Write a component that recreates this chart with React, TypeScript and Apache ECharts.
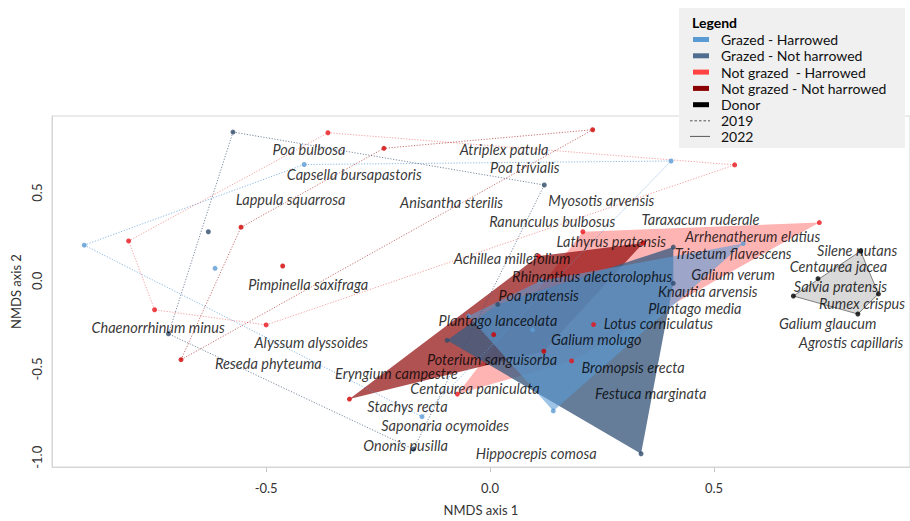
import React, { useEffect, useRef } from "react";
import * as echarts from "echarts";

// ---- axis ticks ----
const X_TICKS = [-0.5, 0, 0.5];
const Y_TICKS = [-1, -0.5, 0, 0.5];

// ---- 2019 plots (dotted hulls) ----
const GH19_HULL: number[][] = [[-0.906, 0.202], [-0.415, 0.659], [0.404, 0.679], [-0.152, -0.77]];
const GH19_IN: number[][] = [[-0.614, 0.071]];
const GN19_HULL: number[][] = [[-0.574, 0.843], [0.121, 0.543], [-0.171, -0.954], [-0.718, -0.3]];
const GN19_IN: number[][] = [[-0.629, 0.278]];
const NH19_HULL: number[][] = [[-0.362, 0.839], [0.546, 0.657], [-0.5, -0.25], [-0.749, -0.164], [-0.807, 0.226]];
const NH19_IN: number[][] = [];
const NN19_HULL: number[][] = [[-0.69, -0.447], [-0.556, 0.304], [-0.237, 0.751], [0.229, 0.856]];
const NN19_IN: number[][] = [[-0.463, 0.084]];

// ---- 2022 plots (filled hulls) ----
const GH22_HULL: number[][] = [[-0.048, -0.2], [0.113, 0.001], [0.565, 0.211], [0.141, -0.737]];
const GH22_IN: number[][] = [[0.095, -0.278]];
const GN22_HULL: number[][] = [[-0.096, -0.337], [0.017, -0.133], [0.409, 0.191], [0.409, -0.014], [0.337, -0.98]];
const GN22_IN: number[][] = [];
const NH22_HULL: number[][] = [[0.207, 0.278], [0.735, 0.33], [0.182, -0.454], [-0.073, -0.642]];
const NH22_IN: number[][] = [[0.231, -0.248]];
const NN22_HULL: number[][] = [[-0.314, -0.67], [0.108, 0.14], [0.342, 0.215], [0.12, -0.399]];
const NN22_IN: number[][] = [[0.008, -0.305]];
const DONOR_HULL: number[][] = [[0.677, -0.086], [0.827, 0.168], [0.867, -0.074], [0.821, -0.188]];
const DONOR_IN: number[][] = [[0.732, 0.012]];

// ---- species labels ----
const SPECIES: string[] = [
  "Poa bulbosa", "Capsella bursapastoris", "Lappula squarrosa", "Anisantha sterilis", "Pimpinella saxifraga",
  "Atriplex patula", "Poa trivialis", "Myosotis arvensis", "Ranunculus bulbosus", "Achillea millefolium",
  "Lathyrus pratensis", "Taraxacum ruderale", "Arrhenatherum elatius", "Trisetum flavescens", "Galium verum",
  "Rhinanthus alectorolophus", "Knautia arvensis", "Poa pratensis", "Plantago media", "Plantago lanceolata",
  "Lotus corniculatus", "Galium molugo", "Poterium sanguisorba", "Bromopsis erecta", "Eryngium campestre",
  "Centaurea paniculata", "Festuca marginata", "Stachys recta", "Saponaria ocymoides", "Ononis pusilla",
  "Hippocrepis comosa", "Silene nutans", "Centaurea jacea", "Salvia pratensis", "Rumex crispus",
  "Galium glaucum", "Agrostis capillaris", "Chaenorrhinum minus", "Alyssum alyssoides", "Reseda phyteuma",
];
const SPECIES_X: number[] = [
  -0.486, -0.454, -0.568, -0.201, -0.54,
  -0.068, 0.0, 0.13, -0.002, -0.081,
  0.148, 0.338, 0.435, 0.412, 0.449,
  0.049, 0.375, 0.019, 0.353, -0.115,
  0.254, 0.136, -0.141, 0.204, -0.346,
  -0.178, 0.234, -0.274, -0.243, -0.283,
  -0.032, 0.73, 0.669, 0.678, 0.734,
  0.645, 0.689, -0.89, -0.526, -0.614,
];
const SPECIES_Y: number[] = [
  0.744, 0.603, 0.46, 0.446, -0.021,
  0.744, 0.642, 0.456, 0.336, 0.125,
  0.224, 0.348, 0.252, 0.153, 0.036,
  0.027, -0.063, -0.082, -0.154, -0.227,
  -0.242, -0.333, -0.445, -0.489, -0.525,
  -0.612, -0.638, -0.711, -0.821, -0.932,
  -0.98, 0.174, 0.081, -0.032, -0.129,
  -0.241, -0.352, -0.263, -0.348, -0.467,
];

// ---- legend ----
const LEGEND_GROUPS = ["Grazed - Harrowed", "Grazed - Not harrowed", "Not grazed  - Harrowed", "Not grazed - Not harrowed", "Donor"];
const LEGEND_COLORS = ["#5B9BD5", "#4F6D8F", "#FF4343", "#8B0000", "#000000"];
const LEGEND_YEARS = ["2019", "2022"];

const FONT = "Lato, 'Liberation Sans', sans-serif";

function polygon(pts: number[][], fill: string, z: number, stroke?: string) {
  return {
    type: "custom",
    coordinateSystem: "cartesian2d",
    data: pts,
    encode: { x: 0, y: 1 },
    silent: true,
    z,
    renderItem: (params: any, api: any) => {
      if (params.dataIndex !== 0) return null;
      const points = pts.map((p) => api.coord(p));
      return {
        type: "polygon",
        shape: { points },
        style: { fill, stroke: stroke || "none", lineWidth: stroke ? 1 : 0 },
      };
    },
  };
}

function dotted(pts: number[][], color: string, z: number) {
  return {
    type: "line",
    data: [...pts, pts[0]],
    symbol: "none",
    silent: true,
    z,
    lineStyle: { type: [1.2, 1.6], width: 1, color },
  };
}

function points(pts: number[][], color: string, z: number) {
  return {
    type: "scatter",
    data: pts,
    symbol: "circle",
    symbolSize: 5,
    silent: true,
    z,
    itemStyle: { color },
  };
}

export default function App() {
  const ref = useRef<HTMLDivElement>(null);
  useEffect(() => {
    if (!ref.current) return;
    const chart = echarts.init(ref.current, undefined, { renderer: "svg" });

    const legendGraphic: any[] = [
      { type: "rect", left: 679, top: 8, shape: { width: 226, height: 140 }, style: { fill: "#F0F0F0" }, z: 100 },
      { type: "text", left: 692, top: 15, style: { text: "Legend", font: `bold 14px ${FONT}`, fill: "#000" }, z: 101 },
    ];
    LEGEND_GROUPS.forEach((g, i) => {
      const cy = 39.5 + i * 16.3;
      legendGraphic.push({ type: "rect", shape: { x: 693, y: cy - 2.5, width: 16, height: 5 }, style: { fill: LEGEND_COLORS[i] }, z: 101 });
      legendGraphic.push({ type: "text", x: 721, y: cy, style: { text: g, font: `14px ${FONT}`, fill: "#111", verticalAlign: "middle" }, z: 101 });
    });
    LEGEND_YEARS.forEach((yr, i) => {
      const cy = 120.8 + i * 15.6;
      legendGraphic.push({
        type: "line", shape: { x1: 690, y1: cy, x2: 710, y2: cy },
        style: { stroke: "#555", lineWidth: 1, lineDash: i === 0 ? [2.5, 2] : null }, z: 101,
      });
      legendGraphic.push({ type: "text", x: 721, y: cy, style: { text: yr, font: `14px ${FONT}`, fill: "#111", verticalAlign: "middle" }, z: 101 });
    });

    const labelData = SPECIES.map((n, i) => ({ name: n, value: [SPECIES_X[i], SPECIES_Y[i]] }));

    const option: any = {
      animation: false,
      backgroundColor: "#fff",
      grid: { left: 52, right: -2, top: 116, bottom: 48, show: true, borderColor: "#d6d6d6", borderWidth: 1 },
      xAxis: {
        type: "value",
        min: -0.978,
        max: 0.9374,
        splitLine: { show: false },
        axisLine: { show: true, onZero: false, lineStyle: { color: "#d6d6d6" } },
        axisTick: { show: true, customValues: X_TICKS, length: 5, lineStyle: { color: "#c8c8c8" } },
        axisLabel: {
          customValues: X_TICKS, margin: 14, color: "#333", fontFamily: FONT, fontSize: 13,
          formatter: (v: number) => v.toFixed(1),
        },
        name: "NMDS axis 1",
        nameLocation: "middle",
        nameGap: 36,
        nameTextStyle: { color: "#333", fontFamily: FONT, fontSize: 13 },
      },
      yAxis: {
        type: "value",
        min: -1.055,
        max: 0.934,
        splitLine: { show: false },
        axisLine: { show: true, onZero: false, lineStyle: { color: "#d6d6d6" } },
        axisTick: { show: false },
        axisLabel: {
          customValues: Y_TICKS, rotate: 90, margin: 9, color: "#333", fontFamily: FONT, fontSize: 13,
          formatter: (v: number) => v.toFixed(1),
        },
        name: "NMDS axis 2",
        nameLocation: "middle",
        nameGap: 27,
        nameRotate: 90,
        nameTextStyle: { color: "#333", fontFamily: FONT, fontSize: 13 },
      },
      graphic: legendGraphic,
      series: [
        polygon(NH22_HULL, "rgba(255,67,67,0.4)", 2),
        polygon(NN22_HULL, "rgba(139,0,0,0.68)", 3),
        polygon(GN22_HULL, "rgba(62,93,128,0.8)", 4),
        polygon(GH22_HULL, "rgba(91,155,213,0.6)", 5),
        polygon(DONOR_HULL, "#D9D9D9", 5, "#7F7F7F"),
        dotted(GH19_HULL, "rgba(91,155,213,0.7)", 6),
        dotted(GN19_HULL, "rgba(68,90,120,0.7)", 6),
        dotted(NH19_HULL, "rgba(240,110,110,0.65)", 6),
        dotted(NN19_HULL, "rgba(170,40,40,0.65)", 6),
        points([...GH19_HULL, ...GH19_IN, ...GH22_HULL, ...GH22_IN], "#5B9BD5", 7),
        points([...GN19_HULL, ...GN19_IN, ...GN22_HULL, ...GN22_IN], "#2F4B6C", 7),
        points([...NH19_HULL, ...NH19_IN, ...NH22_HULL, ...NH22_IN], "#E8141A", 7),
        points([...NN19_HULL, ...NN19_IN, ...NN22_HULL, ...NN22_IN], "#D00000", 7),
        points([...DONOR_HULL, ...DONOR_IN], "#000000", 7),
        {
          type: "scatter",
          data: labelData,
          symbolSize: 0,
          silent: true,
          z: 8,
          label: {
            show: true,
            formatter: "{b}",
            position: "right",
            distance: 0,
            fontFamily: FONT,
            fontStyle: "italic",
            fontSize: 14.5,
            lineHeight: 12,
            color: "#000",
          },
        },
      ],
    };
    chart.setOption(option);
    return () => chart.dispose();
  }, []);
  return <div ref={ref} style={{ position: "absolute", left: 0, top: 0, width: 910, height: 521 }} />;
}
